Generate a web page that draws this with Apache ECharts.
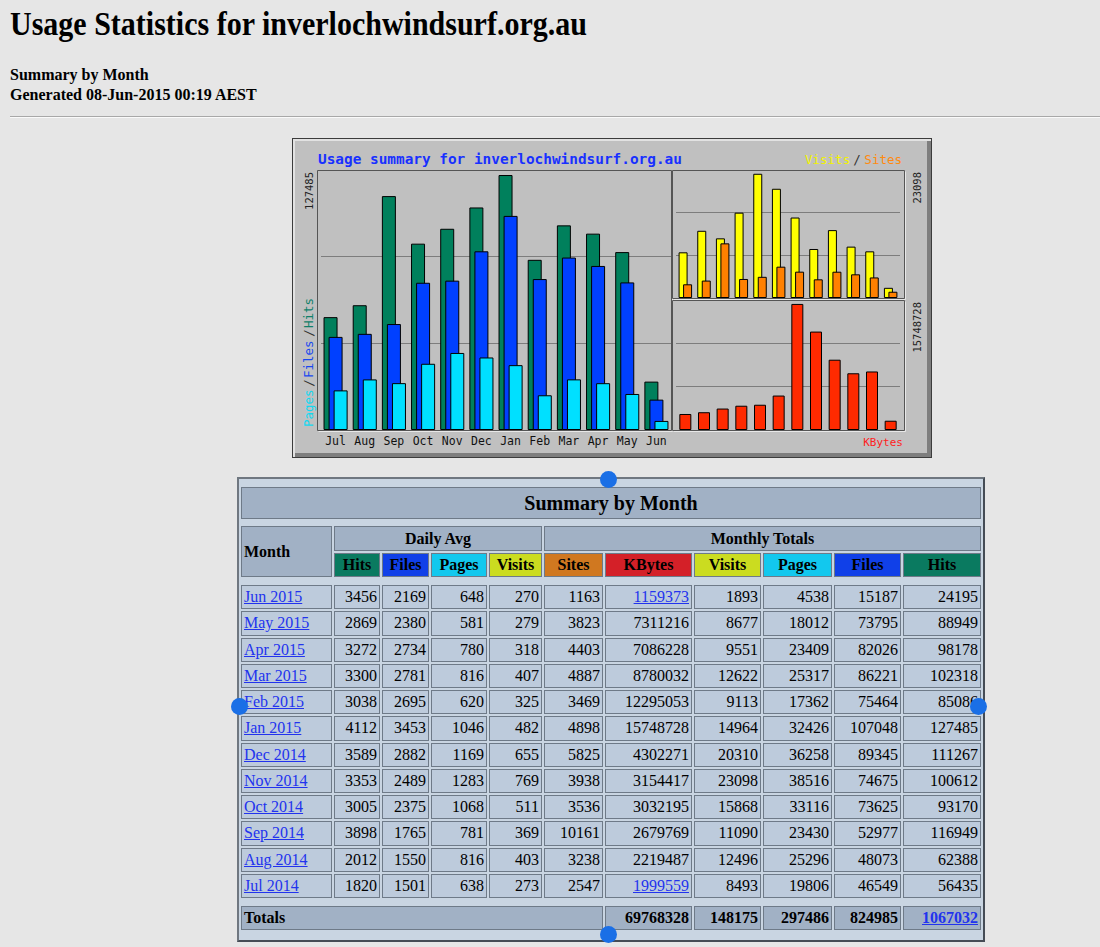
<!DOCTYPE html>
<html>
<head>
<meta charset="utf-8">
<title>Usage Statistics for inverlochwindsurf.org.au - Summary by Month</title>
<script src="https://cdn.jsdelivr.net/npm/echarts@6/dist/echarts.min.js"></script>
<style>
body { margin:0; width:1100px; height:947px; background:#e6e6e6; font-family:"Liberation Serif","Times New Roman",serif; color:#000; position:relative; overflow:hidden; }
h1 { position:absolute; left:10px; top:5px; margin:0; font-size:30px; line-height:34px; font-weight:bold; white-space:nowrap; transform:scaleY(1.1); transform-origin:0 0; }
.sub { position:absolute; left:10px; font-size:16px; font-weight:bold; line-height:20px; }
hr.rule { position:absolute; left:10px; top:116px; width:1090px; margin:0; border:0; border-top:1px solid #a8a8a8; border-bottom:1px solid #fafafa; }
#frame { position:absolute; left:292px; top:138px; width:640px; height:320px; box-sizing:border-box; border:1px solid #3c3c3c; background:#c0c0c0; box-shadow: inset 2px 2px 0 #e2e2e2, inset -4px -4px 0 #7e7e7e; }
#graph { position:absolute; left:292px; top:138px; width:640px; height:320px; }
table.sum { position:absolute; left:237px; top:477px; width:748px; table-layout:fixed; border-collapse:separate; border-spacing:2px; border:2px solid; border-color:#6f7780 #454c55 #454c55 #6f7780; background:#c9d5e2; font-size:16px; }
table.sum td, table.sum th { border:1px solid #6e7a88; padding:0 2px; line-height:18px; white-space:nowrap; overflow:hidden; }
table.sum td { background:#bdcbdc; text-align:right; }
table.sum th { background:#a1b1c5; }
table.sum td.m { text-align:left; padding-left:2px; }
table.sum td.sp { border:0; background:transparent; padding:0; line-height:0; }
table.sum a { color:#2233ee; text-decoration:underline; }
table.sum tr.d { height:24.25px; }
table.sum th.big { font-size:20px; height:30px; }
.dot { position:absolute; width:17px; height:17px; border-radius:50%; background:#1a6fe6; }
</style>
</head>
<body>
<h1>Usage Statistics for inverlochwindsurf.org.au</h1>
<div class="sub" style="top:65px">Summary by Month</div>
<div class="sub" style="top:85px">Generated 08-Jun-2015 00:19 AEST</div>
<hr class="rule">
<div id="frame"></div>
<div id="graph"></div>
<table class="sum" id="summary"></table>
<div class="dot" style="left:600px;top:471px"></div>
<div class="dot" style="left:231px;top:698px"></div>
<div class="dot" style="left:970px;top:698px"></div>
<div class="dot" style="left:600px;top:926px"></div>
<script>
// months Jul 2014 .. Jun 2015
var months = ['Jul','Aug','Sep','Oct','Nov','Dec','Jan','Feb','Mar','Apr','May','Jun'];
var years = [2014,2014,2014,2014,2014,2014,2015,2015,2015,2015,2015,2015];

// daily averages
var avgHits = [1820, 2012, 3898, 3005, 3353, 3589, 4112, 3038, 3300, 3272, 2869, 3456];
var avgFiles = [1501, 1550, 1765, 2375, 2489, 2882, 3453, 2695, 2781, 2734, 2380, 2169];
var avgPages = [638, 816, 781, 1068, 1283, 1169, 1046, 620, 816, 780, 581, 648];
var avgVisits = [273, 403, 369, 511, 769, 655, 482, 325, 407, 318, 279, 270];

// monthly totals
var sites = [2547, 3238, 10161, 3536, 3938, 5825, 4898, 3469, 4887, 4403, 3823, 1163];
var kbytes = [1999559, 2219487, 2679769, 3032195, 3154417, 4302271, 15748728, 12295053, 8780032, 7086228, 7311216, 1159373];
var visits = [8493, 12496, 11090, 15868, 23098, 20310, 14964, 9113, 12622, 9551, 8677, 1893];
var pages = [19806, 25296, 23430, 33116, 38516, 36258, 32426, 17362, 25317, 23409, 18012, 4538];
var files = [46549, 48073, 52977, 73625, 74675, 89345, 107048, 75464, 86221, 82026, 73795, 15187];
var hits = [56435, 62388, 116949, 93170, 100612, 111267, 127485, 85086, 102318, 98178, 88949, 24195];

var linkedKb = ['Jul 2014', 'Jun 2015'];

function maxOf(a) { return Math.max.apply(null, a); }
function sumOf(a) { return a.reduce(function (s, v) { return s + v; }, 0); }

/*
 * graph
 */
var myChart = echarts.init(document.getElementById('graph'), null, {renderer: 'svg'});

var mono = '"DejaVu Sans Mono", monospace';
function txt(text, x, y, color, size, align, rot, bold) {
    return {
        type: 'text', x: x, y: y, rotation: rot || 0, z: 100,
        style: {
            text: text, fill: color, textAlign: align || 'left', textVerticalAlign: 'middle',
            font: (bold ? 'bold ' : '') + size + 'px ' + mono
        }
    };
}
function frame(x, y, w, h) {
    return [
        {type: 'polyline', z: 60, shape: {points: [[x + 1, y + h + 1], [x + w + 1, y + h + 1], [x + w + 1, y + 1]]},
            style: {stroke: '#e8e8e8', lineWidth: 1, fill: null}},
        {type: 'rect', z: 61, shape: {x: x, y: y, width: w, height: h},
            style: {fill: 'transparent', stroke: '#555555', lineWidth: 1}}
    ];
}

var up = Math.PI / 2;
var graphics = []
    .concat(frame(25.5, 32.5, 354, 260))
    .concat(frame(380.5, 32.5, 232, 128))
    .concat(frame(380.5, 162.5, 232, 130))
    .concat([
        txt('Usage summary for inverlochwindsurf.org.au', 26, 21, '#1830ff', 14.4, 'left', 0, true),
        txt('Visits', 513, 21, '#f2f200', 12.5, 'left'),
        txt('/', 565, 21, '#333333', 12.5, 'center'),
        txt('Sites', 610, 21, '#ff8a10', 12.5, 'right'),
        txt('KBytes', 611, 304, '#ff2020', 11, 'right'),
        txt(String(maxOf(hits)), 17, 34, '#222222', 10.5, 'right', up),
        txt('Pages', 16, 289, '#10d8f0', 12.5, 'left', up),
        txt('/', 16, 245, '#333333', 12.5, 'center', up),
        txt('Files', 16, 240, '#1848f0', 12.5, 'left', up),
        txt('/', 16, 195, '#333333', 12.5, 'center', up),
        txt('Hits', 16, 190, '#10806a', 12.5, 'left', up),
        txt(String(maxOf(visits)), 625, 34, '#222222', 10.5, 'right', up),
        txt(String(maxOf(kbytes)), 625, 164, '#222222', 10.5, 'right', up)
    ]);

var splitStyle = {show: true, lineStyle: {color: '#7d7d7d', width: 1}};
function yAx(grid, max) {
    return {
        gridIndex: grid, type: 'value', min: 0, max: max, interval: max / 3,
        axisLine: {show: false}, axisTick: {show: false}, axisLabel: {show: false},
        splitLine: splitStyle
    };
}
function xAx(grid, showLabels) {
    return {
        gridIndex: grid, type: 'category', data: months,
        axisLine: {show: false}, axisTick: {show: false},
        axisLabel: {show: showLabels, interval: 0, margin: 5, color: '#111111', fontSize: 11.5, fontFamily: mono},
        splitLine: {show: false}
    };
}
function barStyle(color) {
    return {color: color, borderColor: '#000000', borderWidth: 1};
}

option = {
    animation: false,
    backgroundColor: 'transparent',
    grid: [
        {left: 29, top: 32, width: 350, height: 260, outerBoundsMode: 'none'},
        {left: 384, top: 32, width: 224, height: 128, outerBoundsMode: 'none'},
        {left: 384, top: 162, width: 224, height: 130, outerBoundsMode: 'none'}
    ],
    xAxis: [xAx(0, true), xAx(1, false), xAx(2, false)],
    yAxis: [yAx(0, 130000), yAx(1, 23800), yAx(2, 16240000)],
    graphic: graphics,
    series: [
        {name: 'Hits', type: 'bar', xAxisIndex: 0, yAxisIndex: 0, data: hits, barWidth: 14, barGap: '-64%', itemStyle: barStyle('#00805c')},
        {name: 'Files', type: 'bar', xAxisIndex: 0, yAxisIndex: 0, data: files, barWidth: 14, barGap: '-64%', itemStyle: barStyle('#0040ff')},
        {name: 'Pages', type: 'bar', xAxisIndex: 0, yAxisIndex: 0, data: pages, barWidth: 14, barGap: '-64%', itemStyle: barStyle('#00e0ff')},
        {name: 'Visits', type: 'bar', xAxisIndex: 1, yAxisIndex: 1, data: visits, barWidth: 9, barGap: '-50%', itemStyle: barStyle('#ffff00')},
        {name: 'Sites', type: 'bar', xAxisIndex: 1, yAxisIndex: 1, data: sites, barWidth: 9, barGap: '-50%', itemStyle: barStyle('#ff8000')},
        {name: 'KBytes', type: 'bar', xAxisIndex: 2, yAxisIndex: 2, data: kbytes, barWidth: 12, itemStyle: barStyle('#ff2a00')}
    ]
};
myChart.setOption(option);

/*
 * summary table
 */
var html = '';
html += '<colgroup><col style="width:91px"><col style="width:46px"><col style="width:47px"><col style="width:56px"><col style="width:53px">' +
    '<col style="width:59px"><col style="width:87px"><col style="width:67px"><col style="width:69px"><col style="width:67px"><col style="width:78px"></colgroup>';
function spacer(h) { return '<tr style="height:' + h + 'px"><td class="sp" colspan="11"></td></tr>'; }
html += spacer(4);
html += '<tr><th class="big" colspan="11">Summary by Month</th></tr>';
html += spacer(3);
html += '<tr style="height:25px"><th rowspan="2" style="text-align:left">Month</th><th colspan="4">Daily Avg</th><th colspan="6">Monthly Totals</th></tr>';
var heads = [['Hits', '#0a7a60'], ['Files', '#1040e8'], ['Pages', '#12c8ee'], ['Visits', '#cbdc20'],
    ['Sites', '#d07820'], ['KBytes', '#d42028'], ['Visits', '#cbdc20'], ['Pages', '#12c8ee'], ['Files', '#1040e8'], ['Hits', '#0a7a60']];
html += '<tr style="height:24px">';
heads.forEach(function (h) { html += '<th style="background:' + h[1] + '">' + h[0] + '</th>'; });
html += '</tr>';
html += spacer(4);
for (var i = months.length - 1; i >= 0; i--) {
    var label = months[i] + ' ' + years[i];
    var kb = linkedKb.indexOf(label) >= 0 ? '<a href="#">' + kbytes[i] + '</a>' : kbytes[i];
    html += '<tr class="d"><td class="m"><a href="#">' + label + '</a></td>' +
        '<td>' + avgHits[i] + '</td><td>' + avgFiles[i] + '</td><td>' + avgPages[i] + '</td><td>' + avgVisits[i] + '</td>' +
        '<td>' + sites[i] + '</td><td>' + kb + '</td><td>' + visits[i] + '</td><td>' + pages[i] + '</td>' +
        '<td>' + files[i] + '</td><td>' + hits[i] + '</td></tr>';
}
html += spacer(4);
html += '<tr style="height:24px"><th colspan="6" style="text-align:left">Totals</th>' +
    '<th style="text-align:right">' + sumOf(kbytes) + '</th><th style="text-align:right">' + sumOf(visits) + '</th>' +
    '<th style="text-align:right">' + sumOf(pages) + '</th><th style="text-align:right">' + sumOf(files) + '</th>' +
    '<th style="text-align:right"><a href="#">' + sumOf(hits) + '</a></th></tr>';
html += spacer(6);
document.getElementById('summary').innerHTML = html;
</script>
</body>
</html>
